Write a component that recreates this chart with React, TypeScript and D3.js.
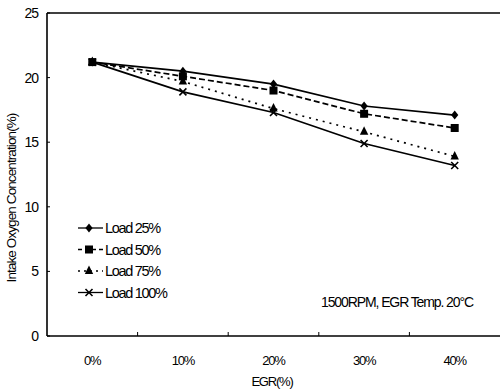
import React from "react";
import * as d3 from "d3";

const categories = ["0%", "10%", "20%", "30%", "40%"];
const load25 = [21.2, 20.5, 19.5, 17.8, 17.1];
const load50 = [21.2, 20.1, 19.0, 17.2, 16.1];
const load75 = [21.2, 19.7, 17.6, 15.8, 13.9];
const load100 = [21.2, 18.9, 17.3, 14.9, 13.2];
const yTicks = [0, 5, 10, 15, 20, 25];
const seriesNames = ["Load 25%", "Load 50%", "Load 75%", "Load 100%"];

const W = 500, H = 391;
const M = { left: 47, right: 0, top: 13, bottom: 55 };

export default function App() {
  const x = d3.scaleBand<string>().domain(categories).range([M.left, W - M.right]).padding(0);
  const y = d3.scaleLinear().domain([0, 25]).range([H - M.bottom, M.top]);
  const cx = (c: string) => (x(c) as number) + x.bandwidth() / 2;
  const font = "'Liberation Sans', Arial, sans-serif";

  const series = [
    { name: seriesNames[0], values: load25, dash: "none", marker: "diamond" },
    { name: seriesNames[1], values: load50, dash: "6,3", marker: "square" },
    { name: seriesNames[2], values: load75, dash: "2,5", marker: "triangle" },
    { name: seriesNames[3], values: load100, dash: "none", marker: "x" },
  ];

  const line = d3.line<number>().x((_, i) => cx(categories[i])).y((v) => y(v));

  const marker = (type: string, px: number, py: number, key: string) => {
    if (type === "diamond") {
      const s = 4.5;
      return <path key={key} d={`M${px},${py - s}L${px + s * 0.8},${py}L${px},${py + s}L${px - s * 0.8},${py}Z`} fill="#000" />;
    }
    if (type === "square") {
      return <rect key={key} x={px - 4} y={py - 4} width={8} height={8} fill="#000" />;
    }
    if (type === "triangle") {
      return <path key={key} d={`M${px},${py - 5.5}L${px + 4.2},${py + 3}L${px - 4.2},${py + 3}Z`} fill="#000" />;
    }
    return (
      <path key={key} d={`M${px - 3.5},${py - 3.5}L${px + 3.5},${py + 3.5}M${px + 3.5},${py - 3.5}L${px - 3.5},${py + 3.5}`} stroke="#000" strokeWidth={1.6} />
    );
  };

  const x0 = M.left, x1 = W - M.right, yb = H - M.bottom, yt = M.top;
  const boundaries = categories.slice(1).map((c) => x(c) as number);

  return (
    <svg width={W} height={H} style={{ position: "absolute", left: 0, top: 0, background: "#fff" }} fontFamily={font}>
      <rect x={0} y={0} width={W} height={H} fill="#fff" />
      {/* frame */}
      <line x1={x0} y1={yt} x2={x1} y2={yt} stroke="#000" strokeWidth={1.6} />
      <line x1={x0} y1={yt} x2={x0} y2={yb} stroke="#000" strokeWidth={1.6} />
      <line x1={x0} y1={yb} x2={x1} y2={yb} stroke="#000" strokeWidth={1.6} />
      {/* y ticks */}
      {yTicks.map((t) => (
        <g key={t}>
          <line x1={x0} y1={y(t)} x2={x0 + 3} y2={y(t)} stroke="#000" strokeWidth={1} />
          <text x={x0 - 9} y={y(t)} dy="0.35em" textAnchor="end" fontSize={14} letterSpacing={-1}>{t}</text>
        </g>
      ))}
      {/* x ticks */}
      {boundaries.map((b, i) => (
        <line key={i} x1={b} y1={yb} x2={b} y2={yb - 4} stroke="#000" strokeWidth={1} />
      ))}
      {categories.map((c) => (
        <text key={c} x={cx(c)} y={365} textAnchor="middle" fontSize={13} letterSpacing={-1.2}>{c}</text>
      ))}
      <text x={272} y={386} textAnchor="middle" fontSize={13} letterSpacing={-1.2}>EGR(%)</text>
      <text transform={`translate(16,198) rotate(-90)`} textAnchor="middle" fontSize={13.5} letterSpacing={-0.9}>Intake Oxygen Concentration(%)</text>
      {/* series */}
      {series.map((s, si) => (
        <g key={s.name}>
          <path d={line(s.values) || ""} fill="none" stroke="#000" strokeWidth={1.7} strokeDasharray={s.dash} />
          {s.values.map((v, i) => marker(s.marker, cx(categories[i]), y(v), `${si}-${i}`))}
        </g>
      ))}
      {/* legend */}
      {series.map((s, i) => {
        const ly = 228 + i * 21.5;
        return (
          <g key={s.name}>
            <line x1={78} y1={ly} x2={103} y2={ly} stroke="#000" strokeWidth={1.3} strokeDasharray={s.dash === "2,5" ? "2,4" : s.dash === "6,3" ? "4,3" : "none"} />
            {marker(s.marker, 89, ly, `l${i}`)}
            <text x={105} y={ly} dy="0.35em" fontSize={14.5} letterSpacing={-1.3}>{s.name}</text>
          </g>
        );
      })}
      <text x={321} y={307} fontSize={14} letterSpacing={-1.1}>1500RPM, EGR Temp. 20°C</text>
    </svg>
  );
}
